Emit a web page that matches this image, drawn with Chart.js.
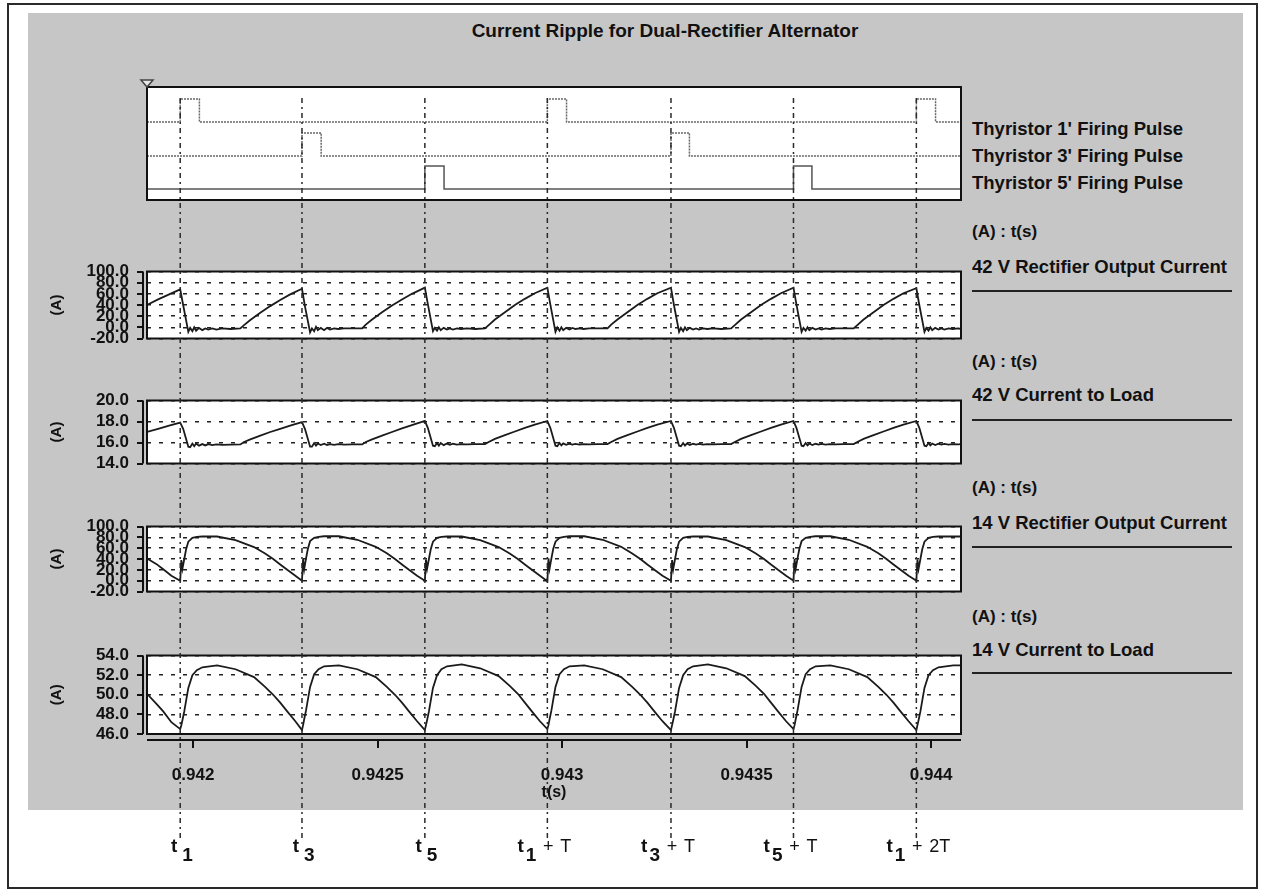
<!DOCTYPE html>
<html>
<head>
<meta charset="utf-8">
<title>Current Ripple for Dual-Rectifier Alternator</title>
<script src="https://cdn.jsdelivr.net/npm/chart.js@4.4.1/dist/chart.umd.min.js"></script>
<style>
  body { margin: 0; background: #fff; }
  #page { position: relative; width: 1262px; height: 890px; overflow: hidden;
          font-family: "Liberation Sans", Arial, sans-serif; color: #111; }
  #frame { position: absolute; left: 7px; top: 3px; width: 1251px; height: 886px;
           border: 2px solid #2a2a2a; box-sizing: border-box; }
  #shade { position: absolute; left: 28px; top: 13px; width: 1215px; height: 797px; background: #c6c6c6; }
  canvas { position: absolute; }
  .txt { position: absolute; font-weight: bold; white-space: nowrap; line-height: 20px; }
  .name { font-size: 18.5px; left: 972px; }
  .unit { font-size: 17px; left: 972px; }
  .rule { position: absolute; left: 972px; width: 260px; height: 2px; background: #222; }
</style>
</head>
<body>
<div id="page">
  <div id="frame"></div>
  <div id="shade"></div>

  <div class="txt" style="left:465px;top:21px;width:400px;text-align:center;font-size:19px;">Current Ripple for Dual-Rectifier Alternator</div>

  <div class="txt name" style="top:119px">Thyristor 1' Firing Pulse</div>
  <div class="txt name" style="top:146px">Thyristor 3' Firing Pulse</div>
  <div class="txt name" style="top:173px">Thyristor 5' Firing Pulse</div>

  <div class="txt unit" style="top:222px">(A) : t(s)</div>
  <div class="txt name" style="top:257px">42 V Rectifier Output Current</div>
  <div class="rule" style="top:290px"></div>

  <div class="txt unit" style="top:352px">(A) : t(s)</div>
  <div class="txt name" style="top:385px">42 V Current to Load</div>
  <div class="rule" style="top:419px"></div>

  <div class="txt unit" style="top:478px">(A) : t(s)</div>
  <div class="txt name" style="top:513px">14 V Rectifier Output Current</div>
  <div class="rule" style="top:546px"></div>

  <div class="txt unit" style="top:607px">(A) : t(s)</div>
  <div class="txt name" style="top:640px">14 V Current to Load</div>
  <div class="rule" style="top:672px"></div>

  <canvas id="pulses" width="923" height="140" style="left:40px;top:70px"></canvas>
  <canvas id="rect42" width="923" height="120" style="left:40px;top:245px"></canvas>
  <canvas id="load42" width="923" height="116" style="left:40px;top:374px"></canvas>
  <canvas id="rect14" width="923" height="118" style="left:40px;top:500px"></canvas>
  <canvas id="load14" width="923" height="175" style="left:40px;top:629px"></canvas>
  <canvas id="markers" width="1262" height="890" style="left:0;top:0;pointer-events:none"></canvas>
</div>

<script>
// Simulation time: samples are stored as microseconds after T0 (seconds)
const T0 = 0.941;
const X_MIN = 0.941875;
const X_MAX = 0.944081;
const xTicks = [0.942, 0.9425, 0.943, 0.9435, 0.944];

// firing instants (us after T0) and their labels: subscript, suffix
const firingTimes = [965, 1295, 1628, 1960, 2295, 2627, 2960];
const firingLabels = [['1', ''], ['3', ''], ['5', ''], ['1', 'T'], ['3', 'T'], ['5', 'T'], ['1', '2T']];

// gate pulses: rise/fall pairs in us
const pulse1 = [965, 1017, 1960, 2012, 2960, 3012];
const pulse3 = [1295, 1347, 2295, 2345];
const pulse5 = [1628, 1680, 2627, 2677];

// 42 V side sample times (us) shared by both 42 V traces
const t42 = [875, 905, 935,
  965, 973, 987, 992, 998, 1003, 1008, 1016, 1025, 1033, 1041, 1052, 1063, 1079, 1101, 1128, 1138, 1155, 1182, 1209, 1236, 1263,
  1295, 1303, 1317, 1322, 1328, 1333, 1338, 1346, 1355, 1363, 1371, 1382, 1393, 1409, 1431, 1458, 1468, 1485, 1512, 1539, 1566, 1593,
  1628, 1636, 1650, 1655, 1661, 1666, 1671, 1679, 1688, 1696, 1704, 1715, 1726, 1742, 1764, 1791, 1801, 1818, 1845, 1872, 1899, 1926,
  1960, 1968, 1982, 1987, 1993, 1998, 2003, 2011, 2020, 2028, 2036, 2047, 2058, 2074, 2096, 2123, 2133, 2150, 2177, 2204, 2231, 2258,
  2295, 2303, 2317, 2322, 2328, 2333, 2338, 2346, 2355, 2363, 2371, 2382, 2393, 2409, 2431, 2458, 2468, 2485, 2512, 2539, 2566, 2593,
  2627, 2635, 2649, 2654, 2660, 2665, 2670, 2678, 2687, 2695, 2703, 2714, 2725, 2741, 2763, 2790, 2800, 2817, 2844, 2871, 2898, 2925,
  2960, 2968, 2982, 2987, 2993, 2998, 3003, 3011, 3020, 3028, 3036, 3047, 3058, 3074, 3081];

// 42 V rectifier output current (A)
const iRect42 = [40, 50, 59,
  68, 40, -8, -1, -7, 0, -6, -1, -5, -2, -4, -2, -4, -2, -3, -2, 4, 13, 26, 38, 49, 59,
  69, 38, -9, -2, -7, 1, -5, -1, -5, -1, -4, -2, -3, -2, -2, -2, 5, 14, 27, 39, 50, 60,
  71, 42, -7, -1, -6, 0, -5, -1, -4, -2, -4, -2, -3, -2, -3, -2, 4, 14, 27, 40, 51, 61,
  71, 41, -8, 0, -6, 0, -5, -1, -4, -1, -3, -2, -3, -2, -2, -2, 5, 14, 27, 40, 51, 61,
  71, 40, -8, -1, -7, 0, -5, -1, -4, -2, -4, -2, -3, -2, -3, -2, 4, 14, 27, 40, 51, 61,
  71, 41, -8, -1, -6, 0, -5, -1, -4, -2, -4, -2, -3, -2, -2, -2, 4, 14, 27, 40, 51, 61,
  70, 40, -8, -1, -6, 0, -5, -1, -4, -2, -4, -2, -3, -2, -3];

// 42 V current to load (A)
const iLoad42 = [17.0, 17.3, 17.6,
  17.9, 17.3, 15.6, 15.55, 15.9, 15.65, 15.9, 15.7, 15.85, 15.72, 15.85, 15.75, 15.82, 15.78, 15.8, 15.82, 16.05, 16.3, 16.65, 17.0, 17.3, 17.6,
  17.95, 17.3, 15.6, 15.6, 15.95, 15.7, 15.9, 15.75, 15.88, 15.75, 15.85, 15.78, 15.85, 15.8, 15.82, 15.82, 16.05, 16.3, 16.65, 17.0, 17.35, 17.65,
  18.05, 17.4, 15.7, 15.65, 15.95, 15.7, 15.95, 15.75, 15.9, 15.78, 15.88, 15.8, 15.85, 15.82, 15.85, 15.85, 16.05, 16.35, 16.7, 17.05, 17.4, 17.7,
  18.05, 17.4, 15.7, 15.65, 15.95, 15.72, 15.92, 15.78, 15.88, 15.8, 15.86, 15.8, 15.85, 15.83, 15.84, 15.85, 16.05, 16.35, 16.7, 17.05, 17.4, 17.7,
  18.05, 17.4, 15.7, 15.65, 15.95, 15.7, 15.9, 15.76, 15.88, 15.8, 15.87, 15.8, 15.85, 15.82, 15.84, 15.85, 16.05, 16.35, 16.7, 17.05, 17.4, 17.7,
  18.05, 17.4, 15.7, 15.65, 15.95, 15.72, 15.9, 15.76, 15.88, 15.8, 15.86, 15.8, 15.85, 15.82, 15.84, 15.85, 16.05, 16.35, 16.7, 17.05, 17.4, 17.7,
  18.05, 17.4, 15.7, 15.65, 15.95, 15.72, 15.9, 15.76, 15.88, 15.8, 15.86, 15.8, 15.85, 15.82, 15.85];

// 14 V side sample times (us) shared by both 14 V traces
const t14 = [875, 900, 919, 941,
  965, 968, 971, 976, 981, 987, 998, 1010, 1025, 1065, 1115, 1165, 1195, 1217, 1236, 1255, 1277,
  1295, 1298, 1301, 1306, 1311, 1317, 1328, 1340, 1355, 1395, 1445, 1495, 1525, 1547, 1566, 1585, 1607,
  1628, 1631, 1634, 1639, 1644, 1650, 1661, 1673, 1688, 1728, 1778, 1828, 1858, 1880, 1899, 1918, 1940,
  1960, 1963, 1966, 1971, 1976, 1982, 1993, 2005, 2020, 2060, 2110, 2160, 2190, 2212, 2231, 2250, 2272,
  2295, 2298, 2301, 2306, 2311, 2317, 2328, 2340, 2355, 2395, 2445, 2495, 2525, 2547, 2566, 2585, 2607,
  2627, 2630, 2633, 2638, 2643, 2649, 2660, 2672, 2687, 2727, 2777, 2827, 2857, 2879, 2898, 2917, 2939,
  2960, 2963, 2966, 2971, 2976, 2982, 2993, 3005, 3020, 3060, 3081];

// 14 V rectifier output current (A)
const iRect14 = [41, 31, 21, 9,
  0, 38, 22, 40, 58, 72, 79, 81, 81.5, 81.5, 75, 62, 50, 40, 30, 20, 9,
  0, 40, 21, 41, 59, 73, 79, 81, 82, 82, 75.5, 62.5, 50.5, 40, 30, 20, 9,
  0, 39, 22, 40, 58, 72, 79, 81, 81.5, 81.5, 75, 62, 50, 40, 30, 20, 9,
  -1, 41, 22, 41, 59, 72, 79, 81, 82, 82, 75.5, 62.5, 50, 40, 30, 20, 9,
  0, 38, 21, 40, 58, 72, 79, 81, 81.5, 81.5, 75, 62, 50, 40, 30, 20, 9,
  0, 40, 22, 41, 59, 73, 79, 81, 82, 82, 75.5, 62.5, 50.5, 40, 30, 20, 9,
  0, 39, 22, 40, 58, 72, 79, 81, 81.5, 81.5, 81.5];

// 14 V current to load (A)
const iLoad14 = [50.1, 49.1, 48.3, 47.2,
  46.5, 46.9, 47.4, 48.3, 49.4, 50.7, 52.0, 52.5, 52.8, 53.0, 52.6, 51.8, 50.8, 50.0, 49.2, 48.3, 47.3,
  46.4, 46.9, 47.5, 48.4, 49.5, 50.8, 52.1, 52.6, 52.9, 53.0, 52.6, 51.8, 50.8, 50.0, 49.2, 48.3, 47.3,
  46.4, 46.9, 47.4, 48.3, 49.4, 50.7, 52.0, 52.6, 52.9, 53.1, 52.7, 51.9, 50.9, 50.1, 49.2, 48.3, 47.3,
  46.5, 46.9, 47.5, 48.4, 49.5, 50.8, 52.1, 52.6, 52.9, 53.0, 52.6, 51.8, 50.8, 50.0, 49.2, 48.3, 47.3,
  46.4, 46.9, 47.4, 48.3, 49.4, 50.7, 52.0, 52.6, 52.9, 53.1, 52.7, 51.9, 50.9, 50.1, 49.2, 48.3, 47.3,
  46.5, 46.9, 47.5, 48.4, 49.5, 50.8, 52.1, 52.6, 52.9, 53.0, 52.6, 51.8, 50.8, 50.0, 49.2, 48.3, 47.3,
  46.4, 46.9, 47.4, 48.3, 49.4, 50.7, 52.0, 52.5, 52.8, 53.0, 53.0];

const FONT = '"Liberation Sans", Arial, sans-serif';
const INK = '#111';
const TRACE = '#1b1b1b';

Chart.defaults.font.family = FONT;
Chart.defaults.color = INK;

const sec = us => T0 + us / 1e6;

function toPoints(ts, vs) {
  const n = Math.min(ts.length, vs.length);
  const pts = [];
  for (let i = 0; i < n; i++) pts.push({ x: sec(ts[i]), y: vs[i] });
  return pts;
}

// square pulse train from rise/fall edge pairs
function pulseTrain(edges) {
  const pts = [{ x: X_MIN, y: 0 }];
  for (let i = 0; i + 1 < edges.length; i += 2) {
    const on = sec(edges[i]), off = sec(edges[i + 1]);
    pts.push({ x: on, y: 0 }, { x: on, y: 1 }, { x: off, y: 1 }, { x: off, y: 0 });
  }
  pts.push({ x: X_MAX, y: 0 });
  return pts;
}

/**
 * panelFrame — white plot box, black frame, offset y axis line with ticks,
 * and (optionally) the detached time axis under the last panel.
 */
const panelFrame = {
  id: 'panelFrame',
  beforeDraw(chart) {
    const { ctx, chartArea: a } = chart;
    ctx.save();
    ctx.fillStyle = '#fff';
    ctx.fillRect(a.left, a.top, a.right - a.left, a.bottom - a.top);
    ctx.restore();
  },
  afterDraw(chart, args, opts) {
    const { ctx, chartArea: a } = chart;
    ctx.save();
    ctx.strokeStyle = INK;
    ctx.lineWidth = 2;
    ctx.strokeRect(a.left, a.top, a.right - a.left, a.bottom - a.top);

    if (opts.yAxis) {
      const y = chart.scales.y;
      ctx.beginPath();
      ctx.moveTo(a.left - 4, a.top);
      ctx.lineTo(a.left - 4, a.bottom);
      y.ticks.forEach(t => {
        const py = Math.round(y.getPixelForValue(t.value));
        ctx.moveTo(a.left - 10, py);
        ctx.lineTo(a.left - 4, py);
      });
      ctx.stroke();
    }

    if (opts.xAxis) {
      const x = chart.scales.x;
      const ay = a.bottom + 6;
      ctx.beginPath();
      ctx.moveTo(a.left, ay);
      ctx.lineTo(a.right, ay);
      xTicks.forEach(v => {
        const px = Math.round(x.getPixelForValue(v));
        ctx.moveTo(px, ay);
        ctx.lineTo(px, ay + 8);
      });
      ctx.stroke();
    }

    if (opts.cursor) {
      // little start-of-trace cursor above the top-left corner
      ctx.lineWidth = 1.5;
      ctx.strokeStyle = '#444';
      ctx.fillStyle = '#e8e8e8';
      ctx.beginPath();
      ctx.moveTo(a.left - 6, a.top - 7);
      ctx.lineTo(a.left + 6, a.top - 7);
      ctx.lineTo(a.left, a.top);
      ctx.closePath();
      ctx.fill();
      ctx.stroke();
    }
    ctx.restore();
  }
};

function hiddenX() {
  return { type: 'linear', min: X_MIN, max: X_MAX, display: false };
}

function valueAxis(min, max, step) {
  return {
    type: 'linear',
    position: 'left',
    min: min,
    max: max,
    afterFit: s => { s.width = 107; },
    ticks: {
      stepSize: step,
      autoSkip: false,
      padding: 18,
      color: INK,
      font: { size: 17, weight: 'bold', lineHeight: 1 },
      callback: v => Number(v).toFixed(1)
    },
    grid: { drawTicks: false, color: '#222', lineWidth: 1.5 },
    border: { display: false, dash: [4, 8] },
    title: { display: true, text: '(A)', color: INK, font: { size: 15, weight: 'bold' }, padding: { top: 8, bottom: 0 } }
  };
}

function trace(points) {
  return {
    data: points,
    borderColor: TRACE,
    borderWidth: 1.8,
    pointRadius: 0,
    tension: 0,
    fill: false
  };
}

function panel(id, points, yMin, yMax, step, withTime) {
  const x = hiddenX();
  if (withTime) {
    Object.assign(x, {
      display: true,
      afterFit: s => {
        s.height = 70;
        // keep the plot box full width; end labels may overhang
        s.paddingLeft = 0;
        s.paddingRight = 0;
      },
      afterBuildTicks: s => { s.ticks = xTicks.map(v => ({ value: v })); },
      ticks: {
        autoSkip: false,
        maxRotation: 0,
        padding: 25,
        color: INK,
        font: { size: 17, weight: 'bold', lineHeight: 1 },
        callback: v => String(Number(Number(v).toFixed(4)))
      },
      grid: { display: false },
      border: { display: false },
      title: { display: true, text: 't(s)', color: INK, font: { size: 16, weight: 'bold', lineHeight: 1 }, padding: { top: 0, bottom: 3 } }
    });
  }
  return new Chart(document.getElementById(id), {
    type: 'line',
    data: { datasets: [trace(points)] },
    options: {
      responsive: false,
      animation: false,
      layout: { padding: { top: 12, bottom: withTime ? 0 : 12, left: 0, right: 2 } },
      scales: { x: x, y: valueAxis(yMin, yMax, step) },
      plugins: {
        legend: { display: false },
        tooltip: { enabled: false },
        panelFrame: { yAxis: true, xAxis: withTime }
      }
    },
    plugins: [panelFrame]
  });
}

// Thyristor firing pulses, one row each
new Chart(document.getElementById('pulses'), {
  type: 'line',
  data: {
    datasets: [
      Object.assign(trace(pulseTrain(pulse1)), { yAxisID: 'p1', borderColor: '#666', borderWidth: 1.5, borderDash: [2, 1] }),
      Object.assign(trace(pulseTrain(pulse3)), { yAxisID: 'p3', borderColor: '#666', borderWidth: 1.5, borderDash: [2, 1] }),
      Object.assign(trace(pulseTrain(pulse5)), { yAxisID: 'p5', borderColor: '#555', borderWidth: 1.5 })
    ]
  },
  options: {
    responsive: false,
    animation: false,
    layout: { padding: { top: 17, bottom: 10, left: 107, right: 2 } },
    scales: {
      x: hiddenX(),
      p1: { type: 'linear', display: false, min: -3.39, max: 1.52 },
      p3: { type: 'linear', display: false, min: -1.91, max: 3.0 },
      p5: { type: 'linear', display: false, min: -0.48, max: 4.43 }
    },
    plugins: {
      legend: { display: false },
      tooltip: { enabled: false },
      panelFrame: { cursor: true }
    }
  },
  plugins: [panelFrame]
});

panel('rect42', toPoints(t42, iRect42), -20, 100, 20, false);
panel('load42', toPoints(t42, iLoad42), 14, 20, 2, false);
panel('rect14', toPoints(t14, iRect14), -20, 100, 20, false);
panel('load14', toPoints(t14, iLoad14), 46, 54, 2, true);

// dash-dot firing markers running through every panel, with t labels underneath
const markerLabels = {
  id: 'markerLabels',
  afterDraw(chart) {
    const { ctx, scales: { x } } = chart;
    ctx.save();
    ctx.fillStyle = INK;
    ctx.textBaseline = 'alphabetic';
    firingTimes.forEach((us, i) => {
      const px = x.getPixelForValue(sec(us));
      const [sub, tail] = firingLabels[i];
      ctx.font = 'bold 19px ' + FONT;
      if (tail) {
        ctx.textAlign = 'right';
        ctx.fillText(sub, px - 11, 861);
        const sw = ctx.measureText(sub).width;
        ctx.fillText('t', px - 13 - sw, 852);
        ctx.font = '18px ' + FONT;
        ctx.textAlign = 'center';
        ctx.fillText('+', px + 1, 852);
        ctx.textAlign = 'left';
        ctx.fillText(tail, px + 13, 852);
      } else {
        ctx.textAlign = 'right';
        ctx.fillText('t', px - 3, 852);
        ctx.textAlign = 'left';
        ctx.fillText(sub, px + 2, 861);
      }
    });
    ctx.restore();
  }
};

new Chart(document.getElementById('markers'), {
  type: 'line',
  data: {
    datasets: firingTimes.map(us => ({
      data: [{ x: sec(us), y: 0 }, { x: sec(us), y: 1 }],
      borderColor: '#2a2a2a',
      borderWidth: 1.5,
      borderDash: [5, 4, 2, 4],
      pointRadius: 0
    }))
  },
  options: {
    responsive: false,
    animation: false,
    layout: { padding: { left: 147, right: 301, top: 95, bottom: 52 } },
    scales: {
      x: hiddenX(),
      y: { type: 'linear', min: 0, max: 1, display: false }
    },
    plugins: { legend: { display: false }, tooltip: { enabled: false } }
  },
  plugins: [markerLabels]
});
</script>
</body>
</html>
